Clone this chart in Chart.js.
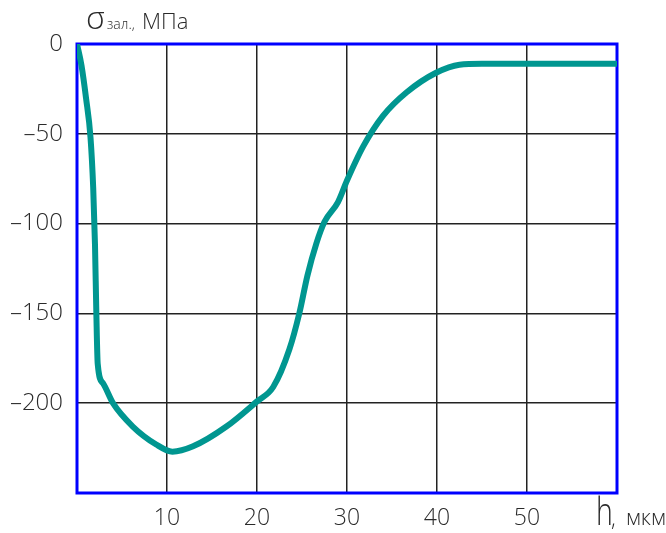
<!DOCTYPE html>
<html><head><meta charset="utf-8">
<script src="https://cdn.jsdelivr.net/npm/chart.js@4/dist/chart.umd.min.js"></script>
<style>html,body{margin:0;background:#fff}</style>
</head><body>
<canvas id="c" width="666" height="533"></canvas>
<script>
// Depth below the surface, µm
const depthUm = [0, 0.5, 1.0, 1.5, 1.8, 2.0, 2.15, 2.3, 2.9, 4.0, 6.2, 8.8, 10.6, 12.9, 16.6, 20.0, 21.8, 23.6, 24.7, 25.6, 26.6, 27.5, 29.0, 30.0, 31.8, 34.0, 36.6, 39.9, 42.5, 45.0, 60.0];
// Residual stress, MPa
const residualStress = [0, -12, -30, -52, -80, -112, -150, -178, -189, -200, -213, -223, -227, -224, -213, -199, -191, -170, -150, -129, -111, -99, -88, -76, -57, -40, -27, -16, -11.5, -11, -11];
const xTickLabels = [10, 20, 30, 40, 50];
const yTickLabels = [0, -50, -100, -150, -200];

const FONT = '"Open Sans", "Liberation Sans", sans-serif';
const TEXT = '#2a2a2a';

const framePlugin = {
  id: 'frame',
  beforeDatasetsDraw(chart) {
    const a = chart.chartArea, ctx = chart.ctx;
    ctx.save();
    ctx.strokeStyle = '#0000ff';
    ctx.lineWidth = 3;
    ctx.strokeRect(a.left, a.top, a.right - a.left, a.bottom - a.top);
    ctx.restore();
  },
  afterDraw(chart) {
    const ctx = chart.ctx;
    ctx.save();
    ctx.fillStyle = TEXT;
    ctx.textBaseline = 'alphabetic';
    // σзал., МПа
    ctx.font = '300 32px ' + FONT;
    ctx.fillText('σ', 86, 29);
    ctx.font = '300 14px ' + FONT;
    ctx.fillText('зал.,', 107, 29);
    ctx.font = '300 22px ' + FONT;
    ctx.fillText('МПа', 142, 29);
    // h, мкм (narrow upright h)
    ctx.save();
    ctx.translate(596, 525);
    ctx.scale(0.75, 1);
    ctx.font = '300 38px ' + FONT;
    ctx.fillText('h', 0, 0);
    ctx.restore();
    ctx.font = '300 22px ' + FONT;
    ctx.fillText(',', 611, 526);
    ctx.fillText('мкм', 626, 525);
    ctx.restore();
  }
};

new Chart(document.getElementById('c'), {
  type: 'line',
  data: {
    datasets: [{
      data: depthUm.map((x, i) => ({ x, y: residualStress[i] })),
      borderColor: '#009690',
      borderWidth: 6,
      pointRadius: 0,
      fill: false,
      cubicInterpolationMode: 'monotone'
    }]
  },
  options: {
    responsive: false,
    animation: false,
    layout: { padding: { top: 44, right: 49, left: 0, bottom: 0 } },
    plugins: { legend: { display: false }, tooltip: { enabled: false } },
    scales: {
      x: {
        type: 'linear', min: 0, max: 60,
        afterFit(s) { s.height = 40; },
        border: { display: false },
        grid: { color: '#222', lineWidth: 1.5, drawTicks: false },
        ticks: {
          stepSize: 10, padding: 12, color: TEXT, maxRotation: 0,
          font: { family: FONT, size: 23, weight: '300' },
          callback: v => xTickLabels.includes(v) ? String(v) : null
        }
      },
      y: {
        type: 'linear', min: -250, max: 0,
        afterFit(s) { s.width = 77; },
        border: { display: false },
        grid: { color: '#222', lineWidth: 1.5, drawTicks: false },
        ticks: {
          stepSize: 50, padding: 14, color: TEXT,
          font: { family: FONT, size: 24, weight: '300' },
          callback: v => yTickLabels.includes(v) ? (v < 0 ? '–' + Math.abs(v) : String(v)) : null
        }
      }
    }
  },
  plugins: [framePlugin]
});
</script>
</body></html>
